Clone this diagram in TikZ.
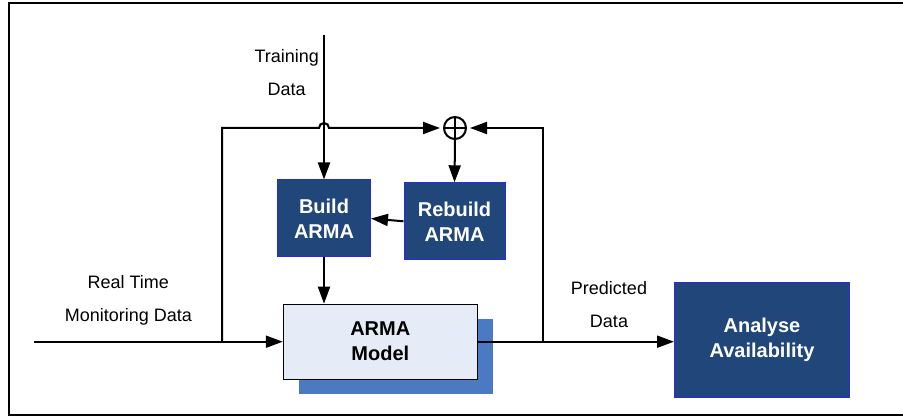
\documentclass[tikz,border=0pt]{standalone}
\usepackage{fontspec}
\setmainfont{Liberation Sans}
\usetikzlibrary{arrows.meta}
\usetikzlibrary{positioning}
\definecolor{boxblue}{RGB}{32,70,122}
\definecolor{edgeblue}{RGB}{40,40,235}
\definecolor{modelfill}{RGB}{230,236,247}
\definecolor{shadowblue}{RGB}{76,122,194}
\tikzstyle{wire}=[line width=2pt]
\tikzstyle{flow}=[line width=2pt,-{Triangle[length=17pt,width=12pt]}]
\tikzstyle{darkbox}=[draw=edgeblue,fill=boxblue,text=white,line width=1pt,inner sep=0pt,align=center,font=\fontsize{20}{25}\selectfont\bfseries]
\tikzstyle{modelbox}=[draw=black,fill=modelfill,line width=1pt,inner sep=0pt,align=center,font=\fontsize{20}{25}\selectfont\bfseries]
\tikzstyle{flowlabel}=[align=center,inner sep=0pt,font=\fontsize{18}{33}\selectfont]
\begin{document}
\begin{tikzpicture}[x=1pt,y=1pt]
	\useasboundingbox (0,0) rectangle (903,418);
	\draw[line width=2pt] (9,3) rectangle (930,415); % right edge falls off the page
	% boxes
	\node[darkbox,minimum width=93pt,minimum height=77pt] (build) at (324,199.5) {Build\\ARMA};
	\node[darkbox,minimum width=101pt,minimum height=77pt] (rebuild) at (454.5,196.7) {Rebuild\\ARMA};
	\node[fill=shadowblue,minimum width=194pt,minimum height=75pt,inner sep=0pt] (shadow) at (396,61.3) {};
	\node[modelbox,minimum width=194pt,minimum height=75pt] (model) at (380.3,76.3) {ARMA\\Model};
	\node[darkbox,minimum width=175pt,minimum height=115pt] (analyse) at (762,78) {Analyse\\Availability};
	\node[circle,draw,line width=2pt,minimum size=22pt,inner sep=0pt] (plus) at (455,290) {};
	\draw[wire] (plus.north) -- (plus.south) (plus.west) -- (plus.east);
	% free ends and corners
	\coordinate (trainin) at (324,383);
	\coordinate (rtin) at (34,76.3);
	\coordinate (hop) at (324,290);
	\coordinate (fbleft) at (222,290);
	\coordinate (fbright) at (543,290);
	% connectors
	\draw[flow] (trainin) -- (build.north);
	\draw[flow] (rtin) -- (model.west);
	\draw[flow,shorten >=3pt] (fbleft |- rtin) -- (fbleft) -- ([xshift=-5pt]hop) arc (180:0:5) -- (plus.west);
	\draw[flow,shorten >=3pt] (fbright |- model.east) -- (fbright) -- (plus.east);
	\draw[flow] (plus.south) -- (rebuild.north);
	\draw[flow] (rebuild.west) -- (build.east);
	\draw[flow] (build.south) -- (build.south |- model.north);
	\draw[flow] (model.east) -- (model.east -| analyse.west);
	% labels
	\node[flowlabel] (traininglbl) at (286.7,345.5) {Training\\Data};
	\node[flowlabel] (rtlbl) at (128.3,117.7) {Real Time\\Monitoring Data};
	\node[flowlabel] (predlbl) at (609,113.5) {Predicted\\Data};
\end{tikzpicture}
\end{document}
